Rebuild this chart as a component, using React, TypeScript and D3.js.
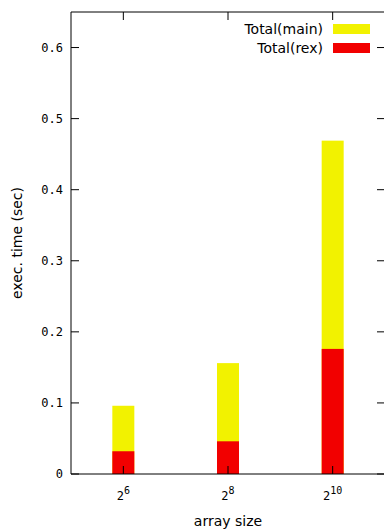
import { useEffect, useRef } from "react"
import * as d3 from "d3"

const sizes = ["6", "8", "10"]
const totalMain = [0.096, 0.156, 0.469]
const totalRex = [0.032, 0.046, 0.176]
const yTicks = [0, 0.1, 0.2, 0.3, 0.4, 0.5, 0.6]
const seriesNames = ["Total(main)", "Total(rex)"]
const colors = ["#f2f200", "#f20000"]

const width = 384
const height = 529
const left = 71
const right = 385
const top = 12
const bottom = 474
const monoFont = "'DejaVu Sans Mono', monospace"
const sansFont = "'DejaVu Sans', sans-serif"

const App = () => {
    const ref = useRef<SVGSVGElement>(null)

    useEffect(() => {
        const svg = d3.select(ref.current)
        svg.selectAll("*").remove()

        const x = d3.scaleBand().domain(sizes).range([left, right])
        const y = d3.scaleLinear().domain([0, 0.65]).range([bottom, top])
        const barW = 22

        // bars: main drawn behind, rex in front
        ;[totalMain, totalRex].forEach((vals, s) => {
            svg.append("g")
                .selectAll("rect")
                .data(vals)
                .join("rect")
                .attr("x", (d, i) => x(sizes[i])! + x.bandwidth() / 2 - barW / 2)
                .attr("y", d => y(d))
                .attr("width", barW)
                .attr("height", d => y(0) - y(d))
                .attr("fill", colors[s])
        })

        // y ticks, left and mirrored right
        const yt = svg.append("g")
        yTicks.forEach(t => {
            yt.append("line").attr("x1", left).attr("x2", left + 8)
                .attr("y1", y(t)).attr("y2", y(t)).attr("stroke", "#000")
            yt.append("line").attr("x1", right - 8).attr("x2", right)
                .attr("y1", y(t)).attr("y2", y(t)).attr("stroke", "#000")
            yt.append("text")
                .attr("x", left - 8).attr("y", y(t) + 4)
                .attr("text-anchor", "end")
                .attr("font-family", monoFont).attr("font-size", 12)
                .text(t === 0 ? "0" : t.toFixed(1))
        })

        // x ticks
        const xt = svg.append("g")
        sizes.forEach(s => {
            const cx = x(s)! + x.bandwidth() / 2
            xt.append("line").attr("x1", cx).attr("x2", cx)
                .attr("y1", bottom).attr("y2", bottom - 8).attr("stroke", "#000")
            xt.append("line").attr("x1", cx).attr("x2", cx)
                .attr("y1", top).attr("y2", top + 8).attr("stroke", "#000")
            const label = xt.append("text")
                .attr("x", cx).attr("y", 500)
                .attr("text-anchor", "middle")
                .attr("font-family", monoFont).attr("font-size", 12)
            label.append("tspan").text("2")
            label.append("tspan").attr("dy", -6).attr("font-size", 10).text(s)
        })

        // border
        svg.append("path")
            .attr("d", `M${left},${top}H${right}V${bottom}H${left}Z`)
            .attr("fill", "none").attr("stroke", "#000")

        // legend
        const lg = svg.append("g")
        seriesNames.forEach((n, i) => {
            const ly = 29 + i * 19
            lg.append("text")
                .attr("x", 323).attr("y", ly + 5)
                .attr("text-anchor", "end")
                .attr("font-family", sansFont).attr("font-size", 14)
                .text(n)
            lg.append("rect")
                .attr("x", 333).attr("y", ly - 5)
                .attr("width", 37).attr("height", 10)
                .attr("fill", colors[i])
        })

        // axis labels
        svg.append("text")
            .attr("transform", `translate(22,${(top + bottom) / 2}) rotate(-90)`)
            .attr("text-anchor", "middle")
            .attr("font-family", sansFont).attr("font-size", 14)
            .text("exec. time (sec)")
        svg.append("text")
            .attr("x", (left + right) / 2).attr("y", 526)
            .attr("text-anchor", "middle")
            .attr("font-family", sansFont).attr("font-size", 14)
            .text("array size")
    })

    return (
        <svg ref={ref} width={width} height={height}
            style={{ position: "absolute", left: 0, top: 0, background: "#fff" }} />
    )
}

export default App
